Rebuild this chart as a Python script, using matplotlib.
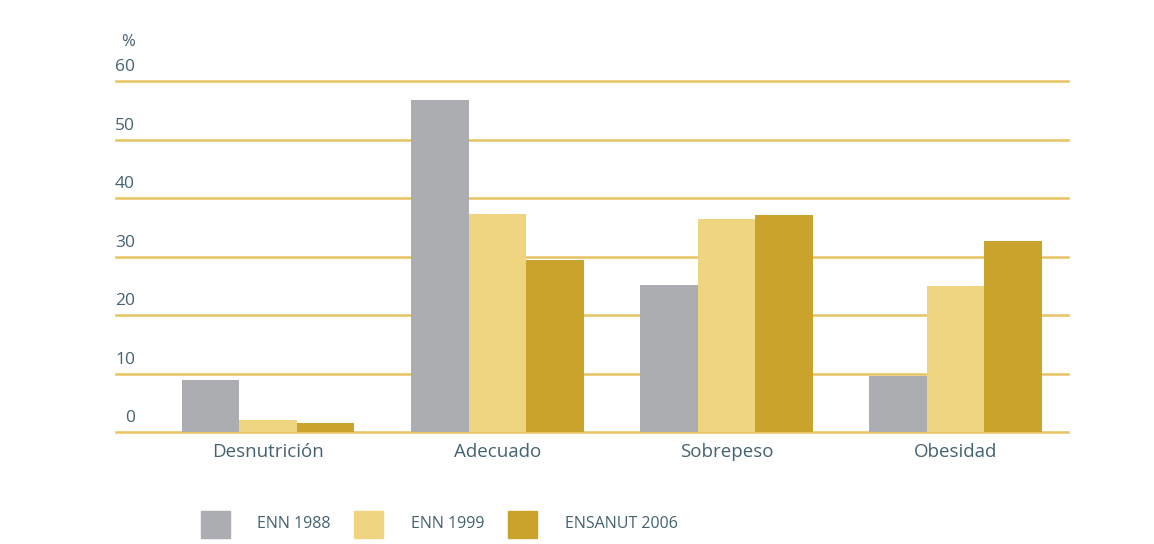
import matplotlib
matplotlib.use('Agg')
import matplotlib.pyplot as plt
from matplotlib.patches import Rectangle
import numpy as np

categories = ['Desnutrición', 'Adecuado', 'Sobrepeso', 'Obesidad']
series_names = ['ENN 1988', 'ENN 1999', 'ENSANUT 2006']
enn_1988 = [8.9, 56.8, 25.1, 9.6]
enn_1999 = [2.0, 37.3, 36.4, 25.0]
ensanut_2006 = [1.5, 29.4, 37.1, 32.6]
y_ticks = [0, 10, 20, 30, 40, 50, 60]

colors = ['#abadb0', '#efd57f', '#c9a32c']
grid_color = '#e6c463'
text_color = '#456270'

plt.rcParams['font.family'] = ['Open Sans', 'DejaVu Sans']

fig = plt.figure(figsize=(11.54, 5.44), dpi=100)
ax = fig.add_axes([116 / 1154, 1 - 432 / 544, 952 / 1154, 351 / 544])

x = np.arange(len(categories))
w = 0.251
for i, vals in enumerate([enn_1988, enn_1999, ensanut_2006]):
    ax.bar(x + (i - 1) * w, vals, w, color=colors[i], zorder=3)

ax.set_ylim(0, 60)
ax.set_xlim(-0.664, 3.49)
for v in y_ticks:
    ax.axhline(v, color=grid_color, lw=1.8, zorder=1, clip_on=False)
    ax.annotate(str(v), xy=(0.02, v), xycoords=ax.get_yaxis_transform(),
                xytext=(0, 4), textcoords='offset points', ha='right',
                va='bottom', fontsize=12.5, color=text_color)
ax.annotate('%', xy=(0.02, 60), xycoords=ax.get_yaxis_transform(),
            xytext=(0, 22), textcoords='offset points', ha='right',
            va='bottom', fontsize=12, color=text_color)

ax.set_yticks([])
ax.set_xticks(x)
ax.set_xticklabels(categories, fontsize=13.5, color=text_color)
ax.tick_params(axis='x', length=0, pad=8)
for s in ax.spines.values():
    s.set_visible(False)

# leyenda
legend_x = [201, 354, 508]
text_x = [257, 411, 565]
for i, name in enumerate(series_names):
    fig.add_artist(Rectangle((legend_x[i] / 1154, 1 - 538 / 544), 29 / 1154, 27 / 544,
                             transform=fig.transFigure, color=colors[i]))
    fig.text(text_x[i] / 1154, 1 - 524 / 544, name, fontsize=11.5,
             color=text_color, va='center', ha='left')

fig.savefig('out.png', dpi=100, facecolor='white')
